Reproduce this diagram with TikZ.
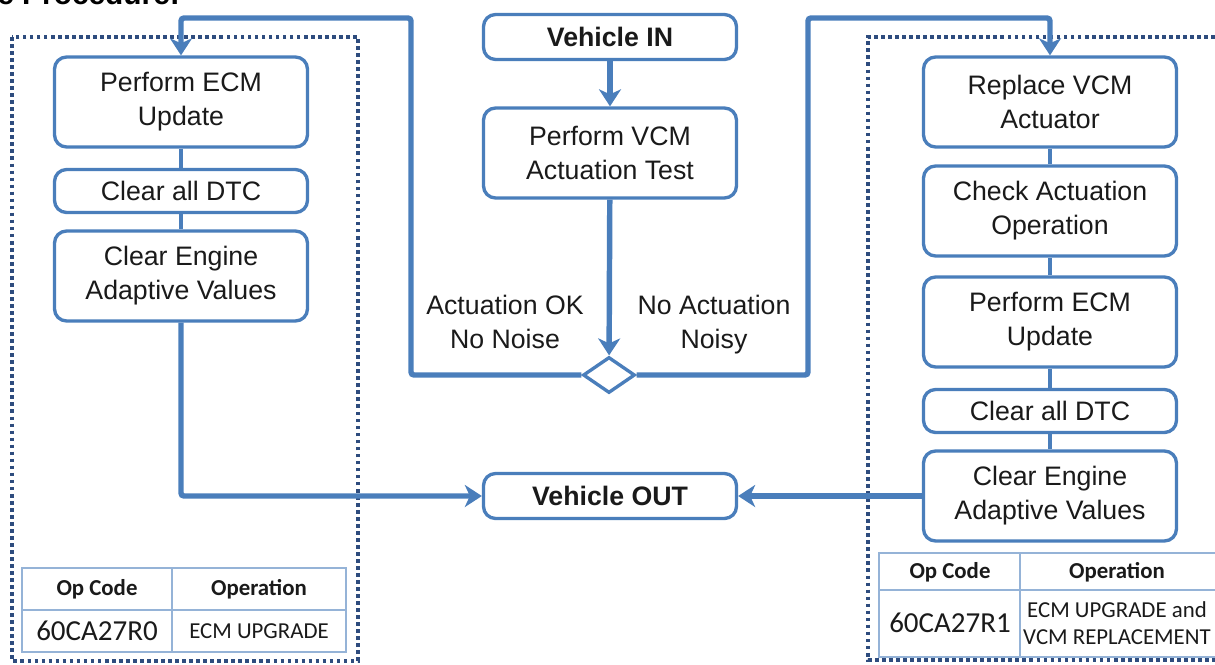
\documentclass[tikz,border=0pt]{standalone}
\usepackage{fontspec}
\setmainfont{Liberation Sans}
\newfontfamily\tablefont{Carlito}
\usetikzlibrary{arrows.meta,shapes.geometric}
\definecolor{vcmblue}{HTML}{4A7EBB}
\definecolor{dotblue}{HTML}{2E4C7E}
\definecolor{tableblue}{HTML}{95B3D7}
\definecolor{inkgray}{HTML}{1A1A1A}
\newcommand{\boxfont}{\fontsize{15.2}{19.3}\selectfont}
\newcommand{\cellfont}{\tablefont\fontsize{13}{15.5}\selectfont}
\tikzset{
  stepbox/.style={draw=vcmblue, line width=1.9pt, rounded corners=0.24cm, fill=white,
    minimum width=5.06cm, minimum height=1.8cm, align=center, text=inkgray,
    font=\boxfont, inner sep=2pt},
  shortbox/.style={stepbox, minimum height=0.86cm},
  endbox/.style={stepbox, minimum height=0.9cm, font=\boxfont\bfseries},
  split/.style={diamond, draw=vcmblue, line width=1.9pt, fill=white,
    minimum width=1.04cm, minimum height=0.72cm, inner sep=0pt},
  flow/.style={draw=vcmblue, line width=3.1pt, rounded corners=0.06cm,
    -{Stealth[length=0.34cm, width=0.44cm, inset=0.1cm]}},
  link/.style={draw=vcmblue, line width=2.4pt},
  zone/.style={draw=dotblue, line width=2.1pt, dash pattern=on 2.1pt off 1.9pt},
  grid/.style={draw=tableblue, line width=1.1pt},
  label/.style={align=center, text=inkgray, font=\boxfont, text depth=0.12cm},
  cell/.style={align=center, text=inkgray, font=\cellfont, inner sep=1pt}
}
\begin{document}
\begin{tikzpicture}[x=0.02cm, y=-0.02cm]
  \useasboundingbox (0,0) rectangle (1215,664);
  \node[anchor=base west, inner sep=0pt, font=\fontsize{17}{20}\selectfont\bfseries] (title) at (-3,4) {e Procedure:};

  % dotted zones
  \draw[zone] (12,37) rectangle (358,661);
  \draw[zone] (1215,37) -- (868,37) -- (868,660) -- (1215,660);

  % centre
  \node[endbox] (vin) at (610,37) {Vehicle IN};
  \node[stepbox] (vcmtest) at (610,153) {Perform VCM\\Actuation Test};
  \node[split] (check) at (609,375) {};
  \node[endbox] (vout) at (610,496) {Vehicle OUT};
  \node[label] (okL) at (505,325) {Actuation OK\\No Noise};
  \node[label] (noisy) at (714,325) {No Actuation\\Noisy};

  % left column
  \node[stepbox] (ecmL) at (181,102) {Perform ECM\\Update};
  \node[shortbox] (dtcL) at (181,191) {Clear all DTC};
  \node[stepbox] (adaptL) at (181,276) {Clear Engine\\Adaptive Values};

  % right column
  \node[stepbox] (repl) at (1050,102) {Replace VCM\\Actuator};
  \node[stepbox] (actop) at (1050,211) {Check Actuation\\Operation};
  \node[stepbox] (ecmR) at (1050,322) {Perform ECM\\Update};
  \node[shortbox] (dtcR) at (1050,411) {Clear all DTC};
  \node[stepbox] (adaptR) at (1050,496) {Clear Engine\\Adaptive Values};

  \draw[link] (ecmL) -- (dtcL);
  \draw[link] (dtcL) -- (adaptL);
  \draw[link] (repl) -- (actop);
  \draw[link] (actop) -- (ecmR);
  \draw[link] (ecmR) -- (dtcR);
  \draw[link] (dtcR) -- (adaptR);

  \coordinate (ltop) at (411,18);
  \coordinate (rtop) at (808,18);
  \draw[flow] (vin) -- (vcmtest);
  \draw[flow] (vcmtest) -- (check);
  \draw[flow] (check.west) -| (ltop) -| (ecmL.north);
  \draw[flow] (check.east) -| (rtop) -| (repl.north);
  \draw[flow] (adaptL.south) |- (vout.west);
  \draw[flow] (adaptR.west) -- (vout.east);

  % op code tables
  \draw[grid] (22,568) rectangle (346,652);
  \draw[grid] (22,610) -- (346,610);
  \draw[grid] (172,568) -- (172,652);
  \node[cell, font=\cellfont\bfseries] (opL) at (97,589) {Op Code};
  \node[cell, font=\cellfont\bfseries] (operL) at (259,589) {Operation};
  \node[cell, font=\tablefont\fontsize{16.5}{18}\selectfont] (codeL) at (97,631) {60CA27R0};
  \node[cell] (descL) at (259,631) {ECM UPGRADE};

  \draw[grid] (1215,553) -- (879,553) -- (879,657) -- (1215,657);
  \draw[grid] (879,590) -- (1215,590);
  \draw[grid] (1020,553) -- (1020,657);
  \node[cell, font=\cellfont\bfseries] (opR) at (950,572) {Op Code};
  \node[cell, font=\cellfont\bfseries] (operR) at (1117,572) {Operation};
  \node[cell, font=\tablefont\fontsize{16.5}{18}\selectfont] (codeR) at (950,623) {60CA27R1};
  \node[cell] (descR) at (1117,623) {ECM UPGRADE and\\VCM REPLACEMENT};
\end{tikzpicture}
\end{document}
